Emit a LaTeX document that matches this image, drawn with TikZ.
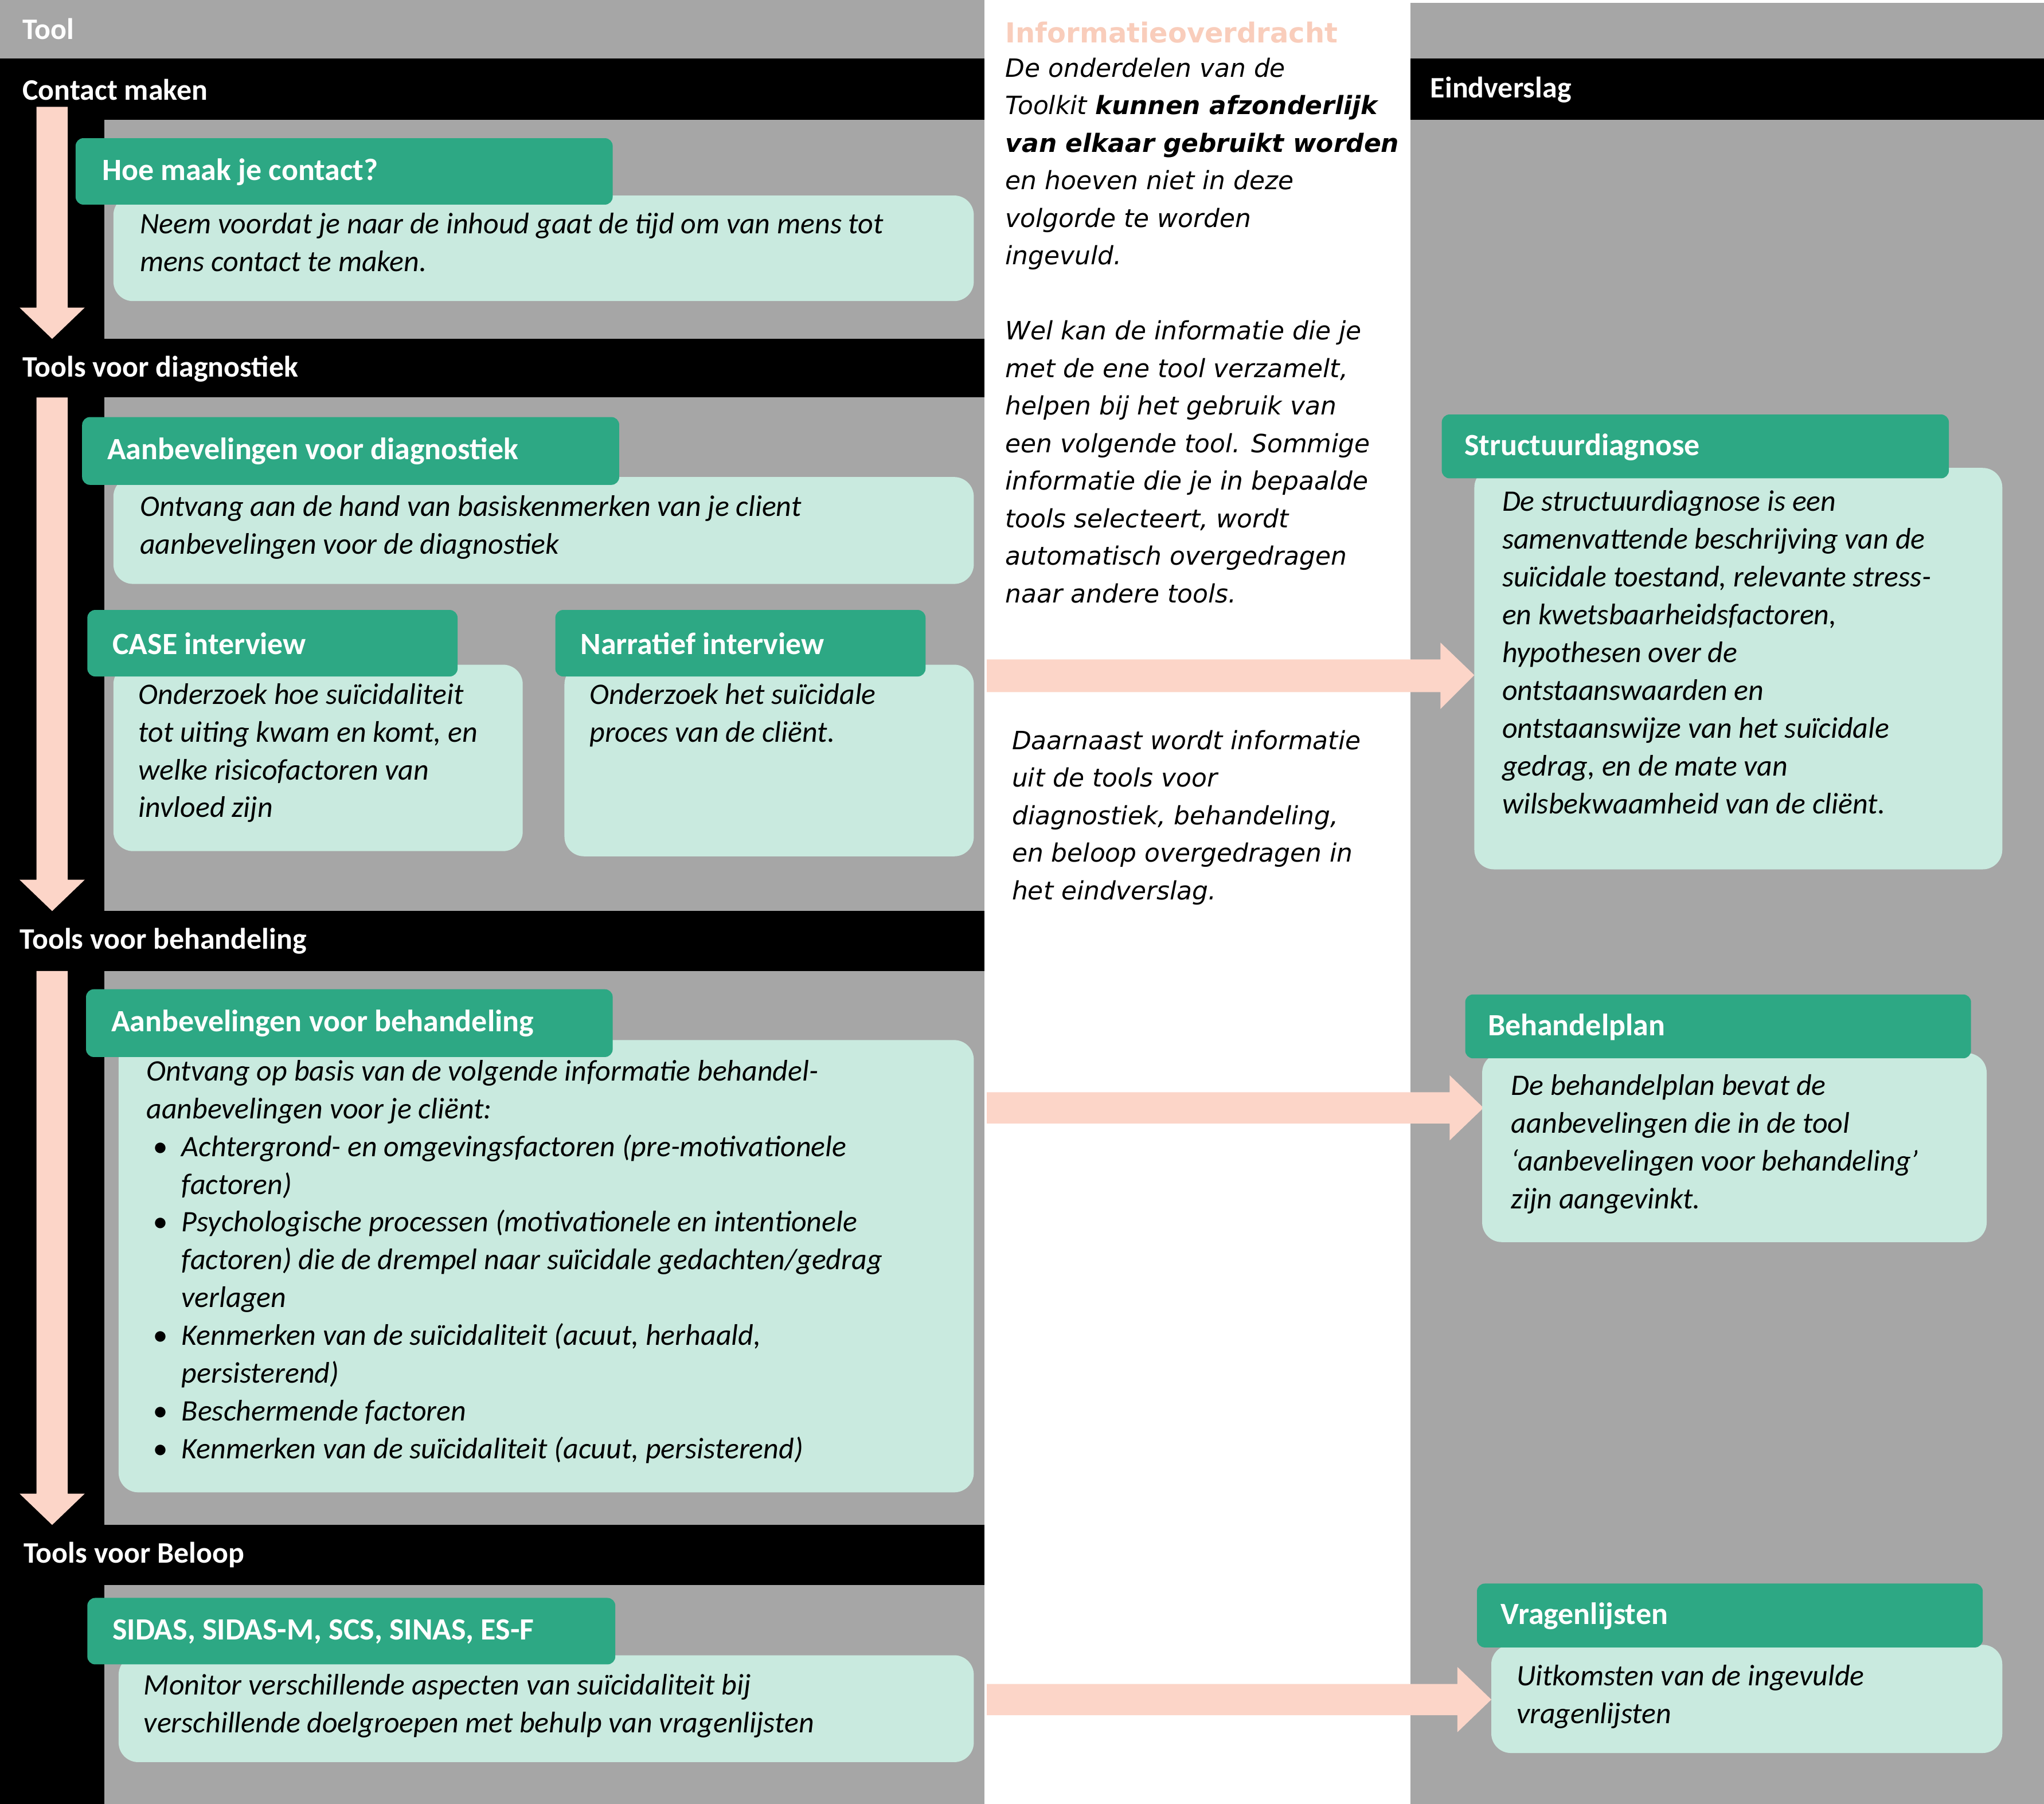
\documentclass[tikz,border=0pt]{standalone}
\usepackage{fontspec}
\setmainfont{Carlito}
\newfontfamily\midfont{DejaVu Sans}
\definecolor{hgreen}{HTML}{2DA884}
\definecolor{lgreen}{HTML}{C9EADF}
\definecolor{panel}{HTML}{A6A6A6}
\definecolor{pinkar}{HTML}{FCD5C8}
\definecolor{titlepink}{HTML}{F9CDBB}
\tikzset{
 hdr/.style={fill=hgreen, rounded corners=0.12cm},
 bdy/.style={fill=lgreen, rounded corners=0.3cm},
 htxt/.style={anchor=west, inner sep=0, text=white, font=\fontsize{13.5}{16}\selectfont\bfseries},
 bartxt/.style={anchor=west, inner sep=0, text=white, font=\fontsize{13}{16}\selectfont\bfseries},
 btxt/.style={anchor=north west, inner sep=0, align=left, font=\fontsize{13}{16.5}\selectfont\itshape},
 mtxt/.style={anchor=north west, inner sep=0, align=left, font=\midfont\fontsize{11}{16.4}\selectfont\itshape},
 pk/.style={fill=pinkar}
}
\newcommand\bul{\makebox[0.54cm][l]{\hspace{0.1cm}•}}
\newcommand\ind{\hspace*{0.54cm}}
\begin{document}
\begin{tikzpicture}[x=0.02cm,y=-0.02cm]
\useasboundingbox (0,0) rectangle (1568,1384);
\fill[white] (0,0) rectangle (1568,1384);
% panels
\fill[panel] (0,0) rectangle (755,1384);
\fill[panel] (1082,2) rectangle (1568,1384);
\fill[black] (0,45) rectangle (80,1384);
\fill[black] (0,45) rectangle (755,92);
\fill[black] (1082,45) rectangle (1568,92);
\fill[black] (0,260) rectangle (755,305);
\fill[black] (0,699) rectangle (755,745);
\fill[black] (0,1170) rectangle (755,1216);
\node[bartxt] (tool) at (17,22) {Tool};
\node[bartxt] (b1) at (17,69) {Contact maken};
\node[bartxt] (b2) at (17,283) {Tools voor diagnostiek};
\node[bartxt] (b3) at (15,722) {Tools voor behandeling};
\node[bartxt] (b4) at (18,1193) {Tools voor Beloop};
\node[bartxt] (b5) at (1097,69) {Eindverslag};
% down arrows
\fill[pk] (28,82)--(52,82)--(52,236)--(65,236)--(40,260)--(15,236)--(28,236)--cycle;
\fill[pk] (28,305)--(52,305)--(52,675)--(65,675)--(40,699)--(15,675)--(28,675)--cycle;
\fill[pk] (28,745)--(52,745)--(52,1146)--(65,1146)--(40,1170)--(15,1146)--(28,1146)--cycle;
% right arrows
\fill[pk] (757,506)--(1105,506)--(1105,493)--(1131,518)--(1105,544)--(1105,531)--(757,531)--cycle;
\fill[pk] (757,838)--(1112,838)--(1112,825)--(1138,850)--(1112,875)--(1112,862)--(757,862)--cycle;
\fill[pk] (757,1292)--(1118,1292)--(1118,1279)--(1144,1304)--(1118,1329)--(1118,1316)--(757,1316)--cycle;
% boxes left
\path[bdy] (87,150) rectangle (747,231);
\path[hdr] (58,106) rectangle (470,157);
\node[htxt] (h1) at (78,132) {Hoe maak je contact?};
\node[btxt] (t1) at (107,163) {Neem voordat je naar de inhoud gaat de tijd om van mens tot\\mens contact te maken.};

\path[bdy] (87,366) rectangle (747,448);
\path[hdr] (63,320) rectangle (475,372);
\node[htxt] (h2) at (82,346) {Aanbevelingen voor diagnostiek};
\node[btxt] (t2) at (107,380) {Ontvang aan de hand van basiskenmerken van je client\\aanbevelingen voor de diagnostiek};

\path[bdy] (87,510) rectangle (401,653);
\path[hdr] (67,468) rectangle (351,519);
\node[htxt] (h3) at (86,494) {CASE interview};
\node[btxt] (t3) at (106,524) {Onderzoek hoe suïcidaliteit\\tot uiting kwam en komt, en\\welke risicofactoren van\\invloed zijn};

\path[bdy] (433,510) rectangle (747,657);
\path[hdr] (426,468) rectangle (710,519);
\node[htxt] (h4) at (445,494) {Narratief interview};
\node[btxt] (t4) at (452,524) {Onderzoek het suïcidale\\proces van de cliënt.};

\path[bdy] (91,798) rectangle (747,1145);
\path[hdr] (66,759) rectangle (470,811);
\node[htxt] (h5) at (85,785) {Aanbevelingen voor behandeling};
\node[btxt] (t5) at (112,813) {Ontvang op basis van de volgende informatie behandel-\\aanbevelingen voor je cliënt:\\
\bul Achtergrond- en omgevingsfactoren (pre-motivationele\\\ind factoren)\\
\bul Psychologische processen (motivationele en intentionele\\\ind factoren) die de drempel naar suïcidale gedachten/gedrag\\\ind verlagen\\
\bul Kenmerken van de suïcidaliteit (acuut, herhaald,\\\ind persisterend)\\
\bul Beschermende factoren\\
\bul Kenmerken van de suïcidaliteit (acuut, persisterend)};

\path[bdy] (91,1270) rectangle (747,1352);
\path[hdr] (67,1226) rectangle (472,1277);
\node[htxt] (h6) at (86,1252) {SIDAS, SIDAS-M, SCS, SINAS, ES-F};
\node[btxt] (t6) at (110,1284) {Monitor verschillende aspecten van suïcidaliteit bij\\verschillende doelgroepen met behulp van vragenlijsten};

% right boxes
\path[bdy] (1131,359) rectangle (1536,667);
\path[hdr] (1106,318) rectangle (1495,367);
\node[htxt] (h7) at (1123,343) {Structuurdiagnose};
\node[btxt] (t7) at (1152,376) {De structuurdiagnose is een\\samenvattende beschrijving van de\\suïcidale toestand, relevante stress-\\en kwetsbaarheidsfactoren,\\hypothesen over de\\ontstaanswaarden en\\ontstaanswijze van het suïcidale\\gedrag, en de mate van\\wilsbekwaamheid van de cliënt.};

\path[bdy] (1137,808) rectangle (1524,953);
\path[hdr] (1124,763) rectangle (1512,812);
\node[htxt] (h8) at (1141,788) {Behandelplan};
\node[btxt] (t8) at (1159,824) {De behandelplan bevat de\\aanbevelingen die in de tool\\‘aanbevelingen voor behandeling’\\zijn aangevinkt.};

\path[bdy] (1144,1262) rectangle (1536,1345);
\path[hdr] (1133,1215) rectangle (1521,1264);
\node[htxt] (h9) at (1151,1240) {Vragenlijsten};
\node[btxt] (t9) at (1163,1277) {Uitkomsten van de ingevulde\\vragenlijsten};

% middle
\node[anchor=west, inner sep=0, text=titlepink, font=\midfont\fontsize{12}{14}\selectfont\bfseries] (mt) at (771,25) {Informatieoverdracht};
\node[mtxt] (m1) at (771,44) {De onderdelen van de\\Toolkit \textbf{kunnen afzonderlijk}\\\textbf{van elkaar gebruikt worden}\\en hoeven niet in deze\\volgorde te worden\\ingevuld.\\[16.4pt]Wel kan de informatie die je\\met de ene tool verzamelt,\\helpen bij het gebruik van\\een volgende tool. Sommige\\informatie die je in bepaalde\\tools selecteert, wordt\\automatisch overgedragen\\naar andere tools.};
\node[mtxt] (m2) at (776,560) {Daarnaast wordt informatie\\uit de tools voor\\diagnostiek, behandeling,\\en beloop overgedragen in\\het eindverslag.};
\end{tikzpicture}
\end{document}
